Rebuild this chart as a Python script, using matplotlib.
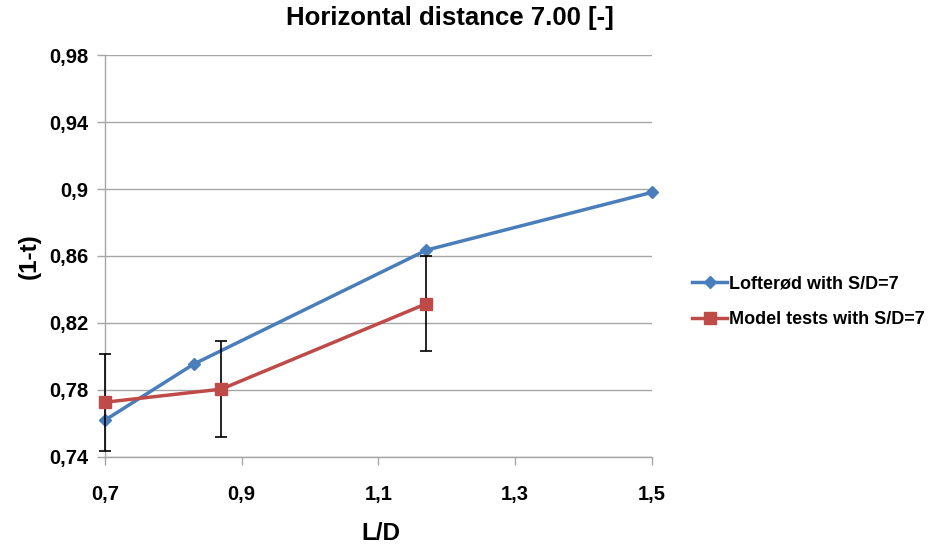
import matplotlib
matplotlib.use("Agg")
import matplotlib.pyplot as plt
from matplotlib.ticker import FuncFormatter, FixedLocator
from matplotlib.lines import Line2D

plt.rcParams['font.family'] = ['Liberation Sans', 'DejaVu Sans']

lofterod_x = [0.7, 0.83, 1.17, 1.5]
lofterod_y = [0.762, 0.7955, 0.8635, 0.898]
model_x = [0.7, 0.87, 1.17]
model_y = [0.7727, 0.7805, 0.8315]
model_err = [0.029, 0.0285, 0.0285]

title = "Horizontal distance 7.00 [-]"
xlabel = "L/D"
ylabel = "(1-t)"
xticks = [0.7, 0.9, 1.1, 1.3, 1.5]
yticks = [0.74, 0.78, 0.82, 0.86, 0.90, 0.94, 0.98]

fig = plt.figure(figsize=(9.3, 5.49), dpi=100)
ax = fig.add_axes([0.1129, 0.1676, 0.701 - 0.1129, 0.8998 - 0.1676])

blue = '#4A7EBB'
red = '#BE4B48'
ax.plot(lofterod_x, lofterod_y, color=blue, lw=2.5, marker='D', ms=6.5,
        zorder=3, clip_on=False)
eb = ax.errorbar(model_x, model_y, yerr=model_err, color=red, lw=2.5, marker='s', ms=9,
                 ecolor='black', elinewidth=1.2, capsize=4.5, capthick=1.2,
                 zorder=4)
for art in eb.get_children():
    art.set_clip_on(False)

ax.set_xlim(0.7, 1.5)
ax.set_ylim(0.74, 0.98)
ax.xaxis.set_major_locator(FixedLocator(xticks))
ax.yaxis.set_major_locator(FixedLocator(yticks))
fmt = FuncFormatter(lambda v, p: ('%g' % round(v, 2)).replace('.', ','))
ax.xaxis.set_major_formatter(fmt)
ax.yaxis.set_major_formatter(fmt)

ax.grid(axis='y', color='#A6A6A6', lw=1)
ax.set_axisbelow(True)
for s in ['top', 'right']:
    ax.spines[s].set_visible(False)
for s in ['left', 'bottom']:
    ax.spines[s].set_color('#A6A6A6')
    ax.spines[s].set_linewidth(1)
ax.tick_params(axis='both', colors='#A6A6A6', length=6, width=1, direction='out',
               labelcolor='black', labelsize=14.5)
ax.tick_params(axis='x', pad=14)
ax.tick_params(axis='y', pad=6)
for lbl in ax.get_xticklabels() + ax.get_yticklabels():
    lbl.set_fontweight('bold')

fig.text(450 / 930, 1 - 18 / 549, title, fontsize=18.5, fontweight='bold',
         ha='center', va='center')
fig.text(381 / 930, 1 - 533 / 549, xlabel, fontsize=17.5, fontweight='bold',
         ha='center', va='center')
ax.set_ylabel(ylabel, fontsize=17.5, fontweight='bold', labelpad=6)

handles = [Line2D([], [], color=blue, lw=2.5, marker='D', ms=6.5),
           Line2D([], [], color=red, lw=2.5, marker='s', ms=9)]
labels = ['Lofterød with S/D=7', 'Model tests with S/D=7']
leg = fig.legend(handles, labels, loc='center left', bbox_to_anchor=(0.727, 0.45),
                 frameon=False, prop={'size': 13, 'weight': 'bold'},
                 handlelength=1.9, handletextpad=0.15, labelspacing=1.05)

fig.savefig('out.png', dpi=100)
